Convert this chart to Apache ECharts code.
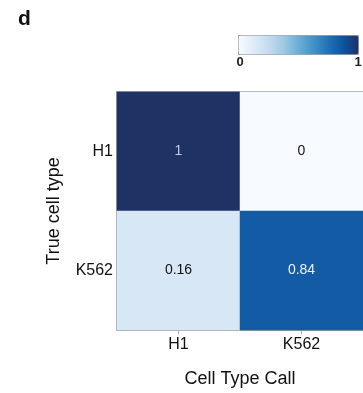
<!DOCTYPE html>
<html>
<head>
<meta charset="utf-8">
<script src="https://cdn.jsdelivr.net/npm/echarts@6/dist/echarts.min.js"></script>
<style>
  html, body { margin: 0; padding: 0; background: #fff; }
  #chart { width: 363px; height: 393px; }
</style>
</head>
<body>
<div id="chart"></div>
<script>
// Confusion matrix: rows = true cell type, columns = predicted call
const callLabels = ['H1', 'K562'];
const trueLabels = ['H1', 'K562'];
const rowH1 = [1, 0];
const rowK562 = [0.16, 0.84];
const scaleMin = 0;
const scaleMax = 1;

const rows = [rowH1, rowK562];
const cells = [];
rows.forEach((row, r) => {
  row.forEach((v, c) => {
    cells.push({
      value: [c, trueLabels[r], v],
      label: { color: v > 0.5 ? (v > 0.95 ? '#c9c4ec' : '#eef2fa') : '#111' }
    });
  });
});

const font = '"Liberation Sans", Arial, sans-serif';
const chart = echarts.init(document.getElementById('chart'));
chart.setOption({
  animation: false,
  backgroundColor: '#fff',
  textStyle: { fontFamily: font },
  grid: {
    left: 117, top: 92, right: -2, bottom: 53,
    show: true, borderColor: '#a6a6a6', borderWidth: 2, backgroundColor: 'transparent'
  },
  xAxis: {
    type: 'category',
    data: callLabels,
    name: 'Cell Type Call',
    nameLocation: 'middle',
    nameGap: 40,
    nameTextStyle: { fontSize: 18, color: '#111', fontFamily: font },
    axisLine: { show: true, lineStyle: { color: '#a6a6a6', width: 2 } },
    axisTick: { show: true, alignWithLabel: true, length: 4, lineStyle: { color: '#a6a6a6' } },
    axisLabel: { fontSize: 16, color: '#111', margin: 7, fontFamily: font },
    splitLine: { show: false }
  },
  yAxis: {
    type: 'category',
    data: trueLabels,
    inverse: true,
    name: 'True cell type',
    nameLocation: 'middle',
    nameGap: 54,
    nameTextStyle: { fontSize: 18, color: '#111', fontFamily: font },
    axisLine: { show: true, lineStyle: { color: '#a6a6a6', width: 2 } },
    axisTick: { show: false },
    axisLabel: { fontSize: 16, color: '#111', margin: 4, fontFamily: font },
    splitLine: { show: false }
  },
  visualMap: {
    type: 'continuous',
    min: scaleMin,
    max: scaleMax,
    orient: 'horizontal',
    left: 238,
    top: 35,
    itemWidth: 19,
    itemHeight: 120,
    padding: 0,
    calculable: false,
    showLabel: false,
    text: null,
    borderColor: '#9a9a9a',
    borderWidth: 1,
    inRange: {
      color: ['#f7fbff', '#deebf7', '#c6dbef', '#9ecae1', '#6baed6', '#4292c6', '#2171b5', '#0d539f', '#1e3264']
    }
  },
  graphic: [
    { type: 'text', left: 18, top: 9, style: { text: 'd', font: 'bold 21px ' + font, fill: '#111' } },
    { type: 'text', x: 240, y: 56, style: { text: String(scaleMin), font: 'bold 13px ' + font, fill: '#222', textAlign: 'center' } },
    { type: 'text', x: 358, y: 56, style: { text: String(scaleMax), font: 'bold 13px ' + font, fill: '#222', textAlign: 'center' } }
  ],
  series: [{
    type: 'heatmap',
    data: cells,
    label: { show: true, fontSize: 14, fontFamily: font, formatter: p => String(p.value[2]) },
    itemStyle: { borderWidth: 0 },
    emphasis: { disabled: true }
  }]
});
</script>
</body>
</html>
